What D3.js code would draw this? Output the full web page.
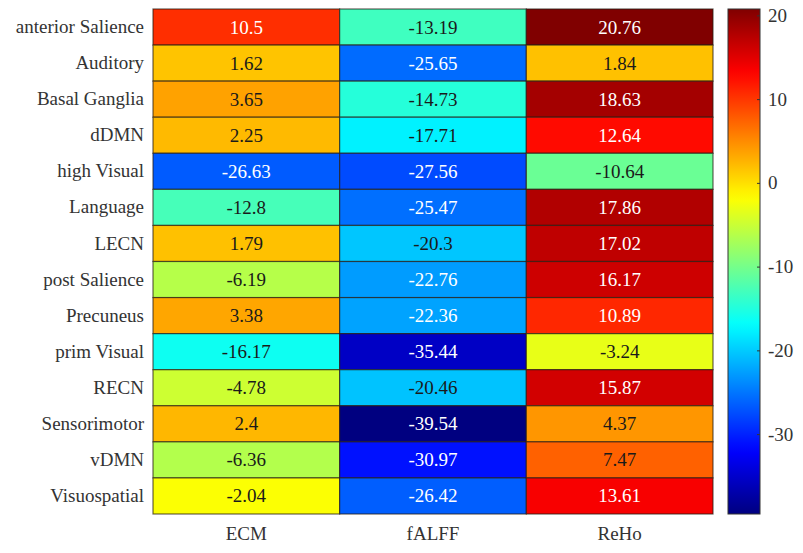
<!DOCTYPE html>
<html>
<head>
<meta charset="utf-8">
<script src="https://cdn.jsdelivr.net/npm/d3@7"></script>
<style>
  html, body { margin: 0; padding: 0; background: #fff; }
  svg { display: block; }
  text { font-family: "Liberation Serif", "Times New Roman", serif; }
</style>
</head>
<body>
<svg id="chart" width="803" height="553"></svg>
<script>
// Brain networks (rows) and imaging measures (columns)
const networks = ["anterior Salience", "Auditory", "Basal Ganglia", "dDMN", "high Visual",
  "Language", "LECN", "post Salience", "Precuneus", "prim Visual", "RECN",
  "Sensorimotor", "vDMN", "Visuospatial"];
const measures = ["ECM", "fALFF", "ReHo"];

// Values per measure, in the order of the networks above
const ecm   = [10.5, 1.62, 3.65, 2.25, -26.63, -12.8, 1.79, -6.19, 3.38, -16.17, -4.78, 2.4, -6.36, -2.04];
const falff = [-13.19, -25.65, -14.73, -17.71, -27.56, -25.47, -20.3, -22.76, -22.36, -35.44, -20.46, -39.54, -30.97, -26.42];
const reho  = [20.76, 1.84, 18.63, 12.64, -10.64, 17.86, 17.02, 16.17, 10.89, -3.24, 15.87, 4.37, 7.47, 13.61];

const colorbarTicks = [-30, -20, -10, 0, 10, 20];

const seriesByMeasure = { ECM: ecm, fALFF: falff, ReHo: reho };
const cells = [];
measures.forEach(m => seriesByMeasure[m].forEach((v, i) => cells.push({ row: networks[i], col: m, value: v })));

const allValues = cells.map(d => d.value);
const vmin = d3.min(allValues), vmax = d3.max(allValues);

// MATLAB-style jet colormap
function jet(t) {
  const c = x => Math.max(0, Math.min(1, x));
  const r = c(1.5 - Math.abs(4 * t - 3));
  const g = c(1.5 - Math.abs(4 * t - 2));
  const b = c(1.5 - Math.abs(4 * t - 1));
  return d3.rgb(r * 255, g * 255, b * 255);
}
const color = d3.scaleSequential(jet).domain([vmin, vmax]);

const svg = d3.select("#chart");
const plotLeft = 153, plotRight = 713, plotTop = 9, plotBottom = 514;
const fontSize = 19;

const x = d3.scaleBand().domain(measures).range([plotLeft, plotRight]);
const y = d3.scaleBand().domain(networks).range([plotTop, plotBottom]);

// Heatmap cells
svg.append("g").selectAll("rect").data(cells).join("rect")
  .attr("x", d => x(d.col))
  .attr("y", d => y(d.row))
  .attr("width", x.bandwidth())
  .attr("height", y.bandwidth())
  .attr("fill", d => color(d.value))
  .attr("stroke", "rgba(40,30,20,0.7)")
  .attr("stroke-width", 1.2);

// Cell value labels; light text on dark cells
function luminance(c) { return (0.2989 * c.r + 0.587 * c.g + 0.114 * c.b) / 255; }
svg.append("g").selectAll("text").data(cells).join("text")
  .attr("x", d => x(d.col) + x.bandwidth() / 2)
  .attr("y", d => y(d.row) + y.bandwidth() / 2)
  .attr("text-anchor", "middle")
  .attr("dominant-baseline", "central")
  .attr("font-size", fontSize)
  .attr("fill", d => luminance(d3.rgb(color(d.value))) < 0.5 ? "#ffffff" : "#1a1a1a")
  .text(d => d.value);

// Row labels
const yAxis = svg.append("g").attr("transform", `translate(${plotLeft},0)`)
  .call(d3.axisLeft(y).tickSize(0).tickPadding(9));
yAxis.select(".domain").remove();
yAxis.selectAll("text").attr("font-size", fontSize).attr("fill", "#333");

// Column labels
const xAxis = svg.append("g").attr("transform", `translate(0,${plotBottom})`)
  .call(d3.axisBottom(x).tickSize(0).tickPadding(13));
xAxis.select(".domain").remove();
xAxis.selectAll("text").attr("font-size", fontSize).attr("fill", "#333");

// Colorbar
const cbLeft = 728, cbWidth = 32;
const cbScale = d3.scaleLinear().domain([vmin, vmax]).range([plotBottom, plotTop]);
const defs = svg.append("defs");
const grad = defs.append("linearGradient").attr("id", "cbGrad")
  .attr("x1", 0).attr("y1", 1).attr("x2", 0).attr("y2", 0);
d3.range(0, 1.0001, 0.02).forEach(t => {
  grad.append("stop").attr("offset", t).attr("stop-color", jet(t));
});
svg.append("rect")
  .attr("x", cbLeft).attr("y", plotTop)
  .attr("width", cbWidth).attr("height", plotBottom - plotTop)
  .attr("fill", "url(#cbGrad)")
  .attr("stroke", "#333").attr("stroke-width", 1);

const cbAxis = svg.append("g").attr("transform", `translate(${cbLeft + cbWidth},0)`)
  .call(d3.axisRight(cbScale).tickValues(colorbarTicks).tickFormat(d => String(d))
    .tickSizeInner(-3).tickSizeOuter(0).tickPadding(8));
cbAxis.select(".domain").remove();
cbAxis.selectAll("line").attr("stroke", "#333");
cbAxis.selectAll("text").attr("font-size", fontSize).attr("fill", "#333");
</script>
</body>
</html>
